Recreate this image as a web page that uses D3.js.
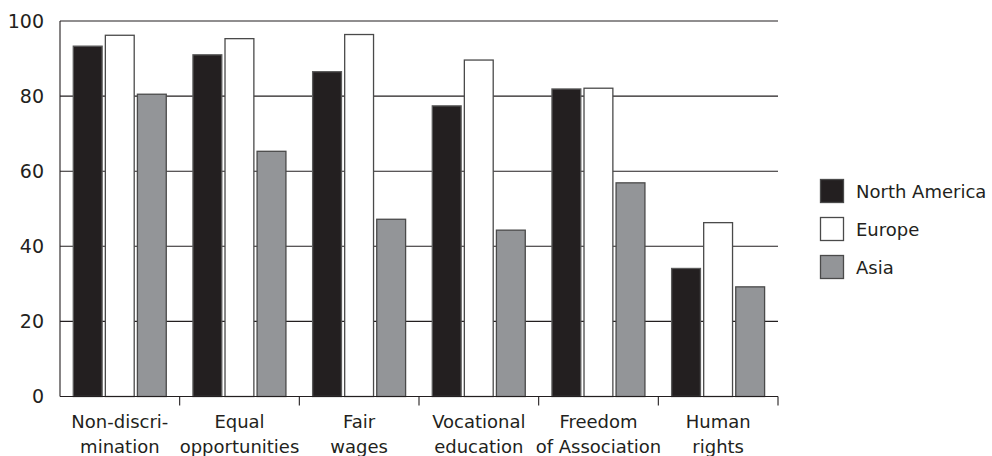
<!DOCTYPE html>
<html>
<head>
<meta charset="utf-8">
<script src="https://cdn.jsdelivr.net/npm/d3@7"></script>
<style>
  html, body { margin: 0; padding: 0; background: #fff; }
  svg { display: block; }
  text { font-family: "DejaVu Sans", sans-serif; fill: #231f20; }
</style>
</head>
<body>
<svg id="chart" width="992" height="456"></svg>
<script>
const categories = [
  ["Non-discri-", "mination"],
  ["Equal", "opportunities"],
  ["Fair", "wages"],
  ["Vocational", "education"],
  ["Freedom", "of Association"],
  ["Human", "rights"]
];
const seriesNames = ["North America", "Europe", "Asia"];
const seriesColors = ["#231f20", "#ffffff", "#939598"];
const northAmerica = [93.3, 91.0, 86.5, 77.4, 81.9, 34.1];
const europe       = [96.2, 95.3, 96.4, 89.6, 82.1, 46.3];
const asia         = [80.5, 65.3, 47.2, 44.3, 56.9, 29.2];
const yTicks = [0, 20, 40, 60, 80, 100];

const seriesValues = [northAmerica, europe, asia];

const svg = d3.select("#chart");
const mLeft = 60, mRight = 778, mTop = 21, mBottom = 396.5;

const x0 = d3.scaleBand()
  .domain(d3.range(categories.length))
  .range([mLeft, mRight])
  .paddingInner(0).paddingOuter(0);

const bw = x0.bandwidth();
const x1 = d3.scaleBand()
  .domain(d3.range(seriesNames.length))
  .range([bw * 0.111, bw * 0.888])
  .paddingInner(0.1).paddingOuter(0);

const y = d3.scaleLinear().domain([0, 100]).range([mBottom, mTop]);

// gridlines
svg.append("g")
  .selectAll("line")
  .data(yTicks.filter(d => d > 0))
  .join("line")
  .attr("x1", mLeft).attr("x2", mRight)
  .attr("y1", d => y(d)).attr("y2", d => y(d))
  .attr("stroke", "#231f20").attr("stroke-width", 1.1);

// y labels
svg.append("g")
  .selectAll("text")
  .data(yTicks)
  .join("text")
  .attr("x", 44)
  .attr("y", d => y(d))
  .attr("dy", "0.36em")
  .attr("text-anchor", "end")
  .attr("font-size", 19)
  .text(d => d);

// bars
const groups = svg.append("g")
  .selectAll("g")
  .data(categories.map((c, i) => i))
  .join("g")
  .attr("transform", i => `translate(${x0(i)},0)`);

groups.selectAll("rect")
  .data(i => seriesValues.map((vals, s) => ({ s, v: vals[i] })))
  .join("rect")
  .attr("x", d => x1(d.s))
  .attr("width", x1.bandwidth())
  .attr("y", d => y(d.v))
  .attr("height", d => y(0) - y(d.v))
  .attr("fill", d => seriesColors[d.s])
  .attr("stroke", d => d.s === 0 ? "#5a5a5a" : "#4a4a4a")
  .attr("stroke-width", 1.3);

// axes lines
svg.append("line")
  .attr("x1", mLeft).attr("x2", mLeft)
  .attr("y1", mTop).attr("y2", mBottom)
  .attr("stroke", "#231f20").attr("stroke-width", 1.1);
svg.append("line")
  .attr("x1", mLeft).attr("x2", mRight)
  .attr("y1", mBottom).attr("y2", mBottom)
  .attr("stroke", "#231f20").attr("stroke-width", 1.1);

// category ticks at band boundaries
svg.append("g")
  .selectAll("line")
  .data(d3.range(1, categories.length + 1))
  .join("line")
  .attr("x1", i => x0(i - 1) + bw).attr("x2", i => x0(i - 1) + bw)
  .attr("y1", mBottom).attr("y2", mBottom + 9)
  .attr("stroke", "#231f20").attr("stroke-width", 1.1);

// category labels
const lbl = svg.append("g")
  .selectAll("text")
  .data(categories.map((c, i) => ({ c, i })))
  .join("text")
  .attr("text-anchor", "middle")
  .attr("font-size", 18)
  .attr("x", d => x0(d.i) + bw / 2);
lbl.selectAll("tspan")
  .data(d => d.c.map((t, k) => ({ t, k, x: x0(d.i) + bw / 2 })))
  .join("tspan")
  .attr("x", d => d.x)
  .attr("y", d => 428 + d.k * 25)
  .text(d => d.t);

// legend
const leg = svg.append("g")
  .selectAll("g")
  .data(seriesNames.map((n, i) => ({ n, i })))
  .join("g")
  .attr("transform", d => `translate(820.5,${179.5 + d.i * 38})`);
leg.append("rect")
  .attr("width", 23).attr("height", 23)
  .attr("fill", d => seriesColors[d.i])
  .attr("stroke", "#4a4a4a").attr("stroke-width", 1.3);
leg.append("text")
  .attr("x", 35.5).attr("y", 18.5)
  .attr("font-size", 18)
  .text(d => d.n);
</script>
</body>
</html>
